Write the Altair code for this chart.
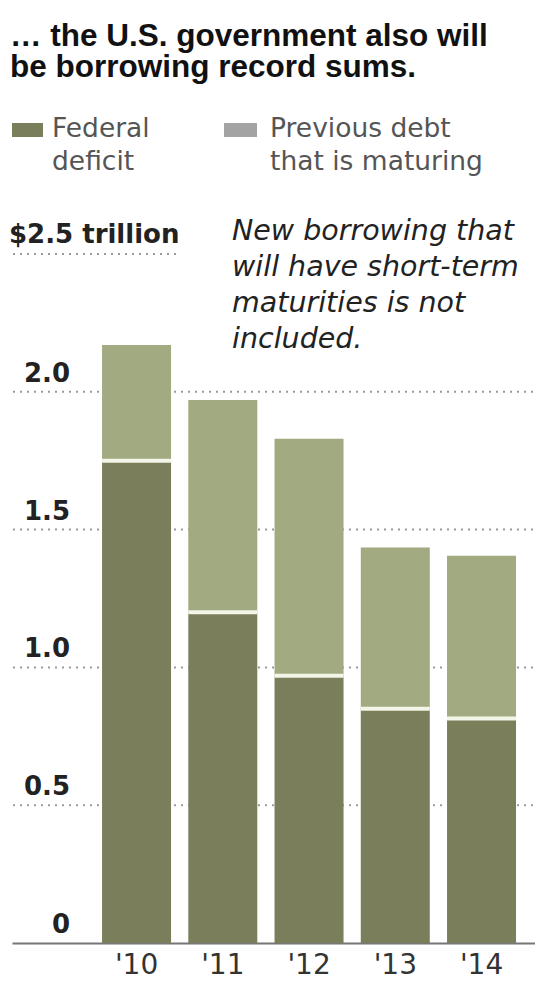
import altair as alt
import pandas as pd

# ---- data ----
years = ["'10", "'11", "'12", "'13", "'14"]
deficit = [1.75, 1.20, 0.97, 0.85, 0.815]
maturing = [0.42, 0.77, 0.86, 0.585, 0.59]
series = ["Federal deficit", "Previous debt that is maturing"]
tick_values = [0, 0.5, 1.0, 1.5, 2.0]
tick_labels = ["0", "0.5", "1.0", "1.5", "2.0"]
top_tick_value = [2.5]
top_tick_label = ["$2.5 trillion"]
title_lines = ["\u2026 the U.S. government also will", "be borrowing record sums."]
note_text = "New borrowing that\nwill have short-term\nmaturities is not\nincluded."
legend_texts = ["Federal\ndeficit", "Previous debt\nthat is maturing"]

FONT = "Liberation Sans"
FONT2 = "DejaVu Sans"
DARK = "#7a7e5a"
LIGHT = "#a1aa80"
SEP = "#f3f5e8"

rows = []
for i, y in enumerate(years):
    rows.append({"year": y, "series": series[0], "value": deficit[i], "ord": 0})
    rows.append({"year": y, "series": series[1], "value": maturing[i], "ord": 1})
df = pd.DataFrame(rows)
sep_df = pd.DataFrame({"year": years, "deficit": deficit})
ticks_df = pd.DataFrame({"v": tick_values, "label": tick_labels})
grid_df = pd.DataFrame({"v": tick_values[1:]})
top_df = pd.DataFrame({"v": top_tick_value, "label": top_tick_label})

W, H = 523, 689
yscale = alt.Scale(domain=[0, 2.5], nice=False, zero=True)
xscale = alt.Scale(paddingInner=0.2, paddingOuter=0.632, align=0.826)

xenc = alt.X("year:N", sort=years, scale=xscale,
             axis=alt.Axis(title=None, labelAngle=0, labelFontSize=28, labelFont=FONT2,
                           labelColor="#333333", ticks=False, domain=True,
                           domainColor="#777777", domainWidth=2, labelPadding=8))

grid = alt.Chart(grid_df).mark_rule(color="#9a9a9a", strokeWidth=2, strokeDash=[2, 5]).encode(
    y=alt.Y("v:Q", scale=yscale, axis=None), x=alt.value(1), x2=alt.value(W)
)
grid_top = alt.Chart(top_df).mark_rule(color="#9a9a9a", strokeWidth=2, strokeDash=[2, 5]).encode(
    y=alt.Y("v:Q", scale=yscale, axis=None), x=alt.value(1), x2=alt.value(165)
)

bars = alt.Chart(df).mark_bar().encode(
    x=xenc,
    y=alt.Y("sum(value):Q", scale=yscale, axis=None, stack="zero"),
    color=alt.Color("series:N", scale=alt.Scale(domain=series, range=[DARK, LIGHT]), legend=None),
    order=alt.Order("ord:Q"),
)

sep = alt.Chart(sep_df).mark_tick(color=SEP, thickness=4, size=69, opacity=1).encode(
    x=alt.X("year:N", sort=years, scale=xscale),
    y=alt.Y("deficit:Q", scale=yscale, axis=None),
)

tick_text = alt.Chart(ticks_df).mark_text(
    align="right", baseline="alphabetic", dy=-10, fontSize=26, fontWeight="bold",
    font=FONT2, color="#222222"
).encode(y=alt.Y("v:Q", scale=yscale, axis=None), x=alt.value(58), text="label:N")

top_text = alt.Chart(top_df).mark_text(
    align="left", baseline="alphabetic", dy=-11, fontSize=26, fontWeight="bold",
    font=FONT2, color="#222222"
).encode(y=alt.Y("v:Q", scale=yscale, axis=None), x=alt.value(-3), text="label:N")

title1 = alt.Chart(pd.DataFrame({"t": [title_lines[0]]})).mark_text(
    align="left", baseline="alphabetic", fontSize=31.5, fontWeight="bold", font=FONT,
    color="#111111"
).encode(x=alt.value(-2), y=alt.value(-208), text="t:N")
title2 = alt.Chart(pd.DataFrame({"t": [title_lines[1]]})).mark_text(
    align="left", baseline="alphabetic", fontSize=31.5, fontWeight="bold", font=FONT,
    color="#111111"
).encode(x=alt.value(-2), y=alt.value(-177), text="t:N")

note = alt.Chart(pd.DataFrame({"t": [note_text]})).mark_text(
    align="left", baseline="alphabetic", fontSize=28.5, fontStyle="italic", font=FONT2,
    color="#222222", lineBreak="\n", lineHeight=36
).encode(x=alt.value(220), y=alt.value(-14), text="t:N")

leg_sw1 = alt.Chart(pd.DataFrame({"s": [series[0]]})).mark_rect(color=DARK).encode(
    x=alt.value(0), x2=alt.value(31), y=alt.value(-131), y2=alt.value(-117))
leg_sw2 = alt.Chart(pd.DataFrame({"s": [series[1]]})).mark_rect(color="#a3a3a3").encode(
    x=alt.value(212), x2=alt.value(245), y=alt.value(-131), y2=alt.value(-117))
leg_t1 = alt.Chart(pd.DataFrame({"t": [legend_texts[0]]})).mark_text(
    align="left", baseline="alphabetic", fontSize=26.5, font=FONT2, color="#555555",
    lineBreak="\n", lineHeight=33).encode(x=alt.value(40), y=alt.value(-117), text="t:N")
leg_t2 = alt.Chart(pd.DataFrame({"t": [legend_texts[1]]})).mark_text(
    align="left", baseline="alphabetic", fontSize=26.5, font=FONT2, color="#555555",
    lineBreak="\n", lineHeight=33).encode(x=alt.value(258), y=alt.value(-117), text="t:N")

chart = alt.layer(
    grid, grid_top, bars, sep, tick_text, top_text, title1, title2, note,
    leg_sw1, leg_sw2, leg_t1, leg_t2
).properties(
    width=W, height=H,
    background="white",
    autosize=alt.AutoSizeParams(type="none"),
    padding={"left": 12, "right": 0, "top": 254, "bottom": 39},
).configure_view(stroke="transparent", strokeWidth=0)

chart.save("out.html", embed_options={"renderer": "svg", "actions": False})
